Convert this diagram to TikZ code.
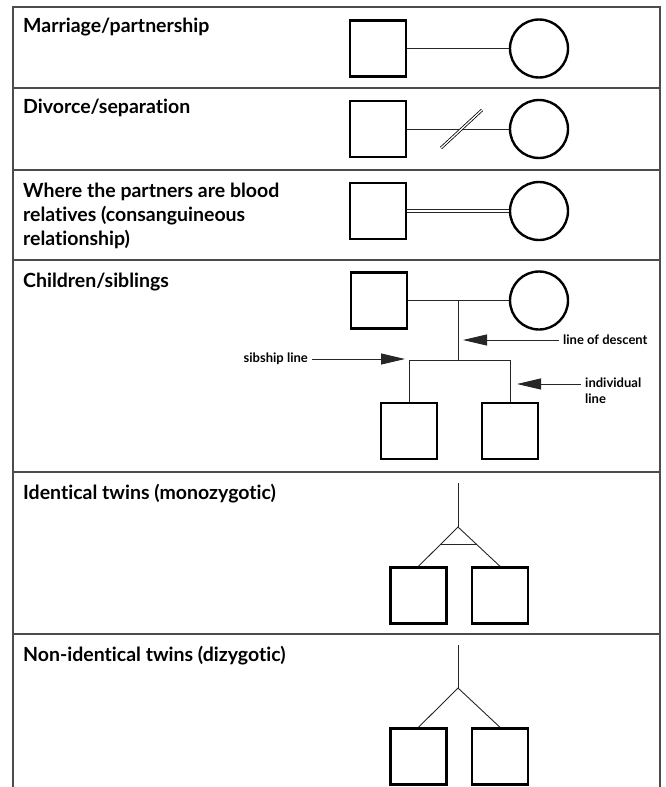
\documentclass[tikz,border=0pt]{standalone}
\usepackage{fontspec}
\setmainfont{Lato}[Ligatures={NoCommon}]
\usetikzlibrary{arrows.meta,calc}

\begin{document}
\begin{tikzpicture}[x=1pt,y=-1pt,
		male/.style={draw,line width=2.4pt,minimum size=56pt,inner sep=0pt},
		female/.style={draw,circle,line width=2.4pt,minimum size=58pt,inner sep=0pt},
		rel/.style={draw=black!85,line width=0.9pt},
		rowline/.style={draw=black!70,line width=1.3pt},
		rowtext/.style={anchor=base west,inner sep=0pt,font=\bfseries\fontsize{19.5}{24}\selectfont},
		tag/.style={inner sep=4pt,align=left,font=\bfseries\fontsize{13}{16}\selectfont},
		pointer/.style={rel,-{Triangle[length=24pt,width=11pt]}}]
		\useasboundingbox (0,0) rectangle (665,787);
		% table
		\draw[rowline] (13,787) -- (13,7) -- (660,7) -- (660,787);
		\foreach \y in {88,170,260,472,634}
			\draw[rowline] (13,\y) -- (660,\y);
		% row texts
		\node[rowtext] (marriage) at (23,32) {Marriage/partnership};
		\node[rowtext] (divorce) at (23,113) {Divorce/separation};
		\node[rowtext] (blood1) at (23,197) {Where the partners are blood};
		\node[rowtext] (blood2) at (23,221) {relatives (consanguineous};
		\node[rowtext] (blood3) at (23,245) {relationship)};
		\node[rowtext] (children) at (23,287) {Children/siblings};
		\node[rowtext] (identical) at (23,499) {Identical twins (monozygotic)};
		\node[rowtext] (nonidentical) at (23,661) {Non-identical twins (dizygotic)};
		% marriage
		\node[male] (m1) at (378,48.5) {};
		\node[female] (f1) at (539,48.5) {};
		\draw[rel] (m1) -- (f1);
		% divorce
		\node[male] (m2) at (378,129) {};
		\node[female] (f2) at (539,129) {};
		\draw[rel] (m2) -- (f2);
		\coordinate (cut) at (461,129);
		\draw[draw=black,line width=0.8pt,double,double distance=1.3pt] ([shift={(-20,19)}]cut) -- ([shift={(21,-19)}]cut);
		% consanguineous
		\node[male] (m3) at (378,211) {};
		\node[female] (f3) at (539,211) {};
		\draw[rel,line width=0.7pt,double,double distance=2pt] (m3) -- (f3);
		% children
		\node[male] (m4) at (379,300.5) {};
		\node[female] (f4) at (539,300.5) {};
		\draw[rel] (m4) -- (f4);
		\node[male] (c1) at (409,431) {};
		\node[male] (c2) at (510,431) {};
		\coordinate (mid) at ($(m4.east)!0.5!(f4.west)$);
		\coordinate (sib) at (mid |- 0,360);
		\draw[rel] (mid) -- (sib);
		\draw[rel] (c1.north) -- (c1.north |- sib) -- (c2.north |- sib) -- (c2.north);
		\node[tag,anchor=west] (descent) at (559,340) {line of descent};
		\coordinate (dtip) at (463,340);
		\draw[pointer] (descent.west) -- (dtip);
		\node[tag,anchor=east] (sibship) at (312,359) {sibship line};
		\coordinate (stip) at (405,359);
		\draw[pointer] (sibship.east) -- (stip);
		\node[tag,anchor=west] (individual) at (581,391) {individual\\line};
		\coordinate (itip) at (517,384);
		\draw[pointer] (individual.west |- itip) -- (itip);
		% identical twins
		\coordinate (top5) at (458,483);
		\coordinate (apex5) at (458,527);
		\node[male] (t1) at (418.5,595.5) {};
		\node[male] (t2) at (500,595.5) {};
		\draw[rel] (top5) -- (apex5);
		\draw[rel] (t1.north) -- (apex5) -- (t2.north);
		\draw[rel] ($(apex5)!0.45!(t1.north)$) -- ($(apex5)!0.45!(t2.north)$);
		% non-identical twins
		\coordinate (top6) at (458,645);
		\coordinate (apex6) at (458,688);
		\node[male] (d1) at (418.5,756.5) {};
		\node[male] (d2) at (500,756.5) {};
		\draw[rel] (top6) -- (apex6);
		\draw[rel] (d1.north) -- (apex6) -- (d2.north);
	\end{tikzpicture}
\end{document}
